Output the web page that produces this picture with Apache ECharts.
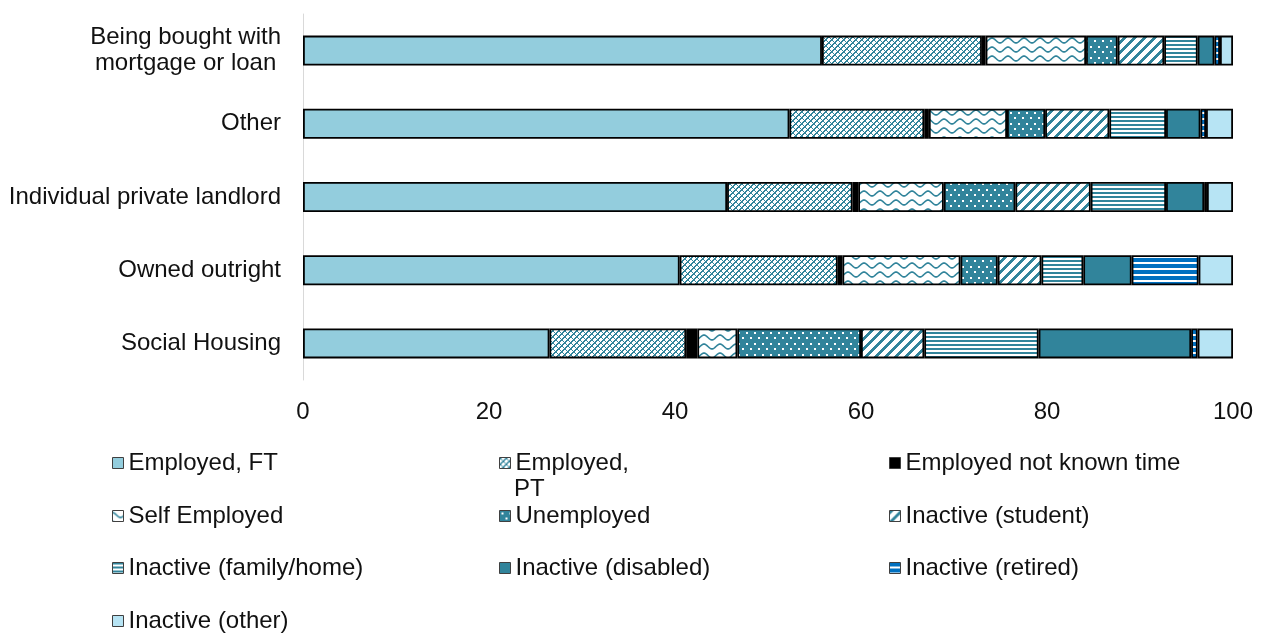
<!DOCTYPE html>
<html>
<head>
<meta charset="utf-8">
<script src="https://cdn.jsdelivr.net/npm/echarts@6/dist/echarts.min.js"></script>
<style>
  html, body { margin: 0; padding: 0; background: #fff; }
  #chart { width: 1266px; height: 633px; }
</style>
</head>
<body>
<div id="chart"></div>
<script>
// Tenure categories, top to bottom
const categories = [
  'Being bought with mortgage or loan',
  'Other',
  'Individual private landlord',
  'Owned outright',
  'Social Housing'
];

// Economic activity shares (%) per tenure, same order as categories
const employedFT      = [55.8, 52.3, 45.6, 40.5, 26.5];
const employedPT      = [17.2, 14.5, 13.5, 17.0, 14.7];
const employedUnknown = [0.4, 0.5, 0.6, 0.5, 1.2];
const selfEmployed    = [10.8, 8.4, 9.2, 12.7, 4.3];
const unemployed      = [3.4, 4.1, 7.7, 4.0, 13.3];
const inactiveStudent = [5.0, 6.9, 8.1, 4.7, 6.8];
const inactiveFamily  = [3.6, 6.1, 8.1, 4.5, 12.3];
const inactiveDisabled= [1.8, 3.7, 4.1, 5.2, 16.4];
const inactiveRetired = [0.6, 0.6, 0.3, 7.2, 0.7];
const inactiveOther   = [1.4, 2.9, 2.8, 3.7, 3.8];

const seriesNames = [
  'Employed, FT', 'Employed, PT', 'Employed not known time',
  'Self Employed', 'Unemployed', 'Inactive (student)',
  'Inactive (family/home)', 'Inactive (disabled)', 'Inactive (retired)',
  'Inactive (other)'
];
const xTicks = { min: 0, max: 100, step: 20 };

const TEAL = '#31849B';
const FONT = "'Liberation Sans', Arial, sans-serif";
const FS = 24;

// ---- fill patterns drawn into small repeating tiles ----
function tile(w, h, draw) {
  const c = document.createElement('canvas');
  c.width = w; c.height = h;
  const ctx = c.getContext('2d');
  draw(ctx, w, h);
  return { image: c, repeat: 'repeat' };
}
function pixels(w, h, bg, fg, test) {
  return tile(w, h, (ctx) => {
    ctx.fillStyle = bg; ctx.fillRect(0, 0, w, h);
    ctx.fillStyle = fg;
    for (let y = 0; y < h; y++)
      for (let x = 0; x < w; x++)
        if (test(x, y)) ctx.fillRect(x, y, 1, 1);
  });
}

const patConfetti = pixels(6, 6, '#fff', TEAL, (x, y) =>
  ((x + y) % 6) < 2 || ((x - y + 6) % 6) < 1);

const patWave = tile(16, 9, (ctx, w, h) => {
  ctx.fillStyle = '#fff'; ctx.fillRect(0, 0, w, h);
  ctx.strokeStyle = TEAL; ctx.lineWidth = 1.6;
  ctx.beginPath();
  for (let x = -1; x <= w + 1; x += 0.5) {
    const y = 4.5 - 2.4 * Math.cos(2 * Math.PI * x / w);
    if (x === -1) ctx.moveTo(x, y); else ctx.lineTo(x, y);
  }
  ctx.stroke();
});

const patDots = tile(8, 11, (ctx, w, h) => {
  ctx.fillStyle = TEAL; ctx.fillRect(0, 0, w, h);
  ctx.fillStyle = '#fff';
  ctx.fillRect(2, 2, 2, 2);
  ctx.fillRect(6, 7, 2, 2);
});

const patDiagonal = pixels(10, 10, '#fff', TEAL, (x, y) => ((x + y) % 10) < 4);

const patHLines = pixels(1, 4, '#fff', TEAL, (x, y) => y < 2);

const patRetired = pixels(1, 6, '#fff', '#0070C0', (x, y) => y < 4);

const fills = [
  '#93CDDD', patConfetti, '#000000', patWave, patDots,
  patDiagonal, patHLines, TEAL, patRetired, '#B7E4F4'
];
const values = [
  employedFT, employedPT, employedUnknown, selfEmployed, unemployed,
  inactiveStudent, inactiveFamily, inactiveDisabled, inactiveRetired, inactiveOther
];

const series = seriesNames.map((name, i) => ({
  name,
  type: 'bar',
  stack: 'total',
  barWidth: 30,
  data: values[i],
  itemStyle: { color: fills[i], borderColor: '#000', borderWidth: 1.8 },
  emphasis: { disabled: true }
}));

// Legend in three columns
const legendCols = [112, 499, 889];
const legendRows = [463, 516, 568, 621];
const legends = seriesNames.map((name, i) => ({
  data: [name],
  left: legendCols[i % 3],
  top: legendRows[Math.floor(i / 3)] - 14,
  icon: 'rect',
  itemWidth: 11,
  itemHeight: 11,
  selectedMode: false,
  padding: 0,
  itemStyle: { borderColor: '#404040', borderWidth: 1 },
  textStyle: { fontSize: FS, color: '#111', fontFamily: FONT, lineHeight: 28 },
  formatter: name === 'Employed, PT' ? 'Employed,' : '{name}'
}));

const chart = echarts.init(document.getElementById('chart'), null, { renderer: 'canvas' });
chart.setOption({
  animation: false,
  backgroundColor: '#fff',
  grid: { left: 303, right: 33, top: 14, bottom: 253, containLabel: false },
  xAxis: {
    type: 'value',
    min: xTicks.min, max: xTicks.max, interval: xTicks.step,
    axisLine: { show: false },
    axisTick: { show: false },
    splitLine: { show: false },
    axisLabel: { fontSize: FS, color: '#111', fontFamily: FONT, margin: 20 }
  },
  yAxis: {
    type: 'category',
    inverse: true,
    data: categories,
    axisLine: { show: true, lineStyle: { color: '#d9d9d9', width: 1 } },
    axisTick: { show: false },
    axisLabel: {
      fontSize: FS, color: '#111', fontFamily: FONT, margin: 22,
      formatter: (v) => v === 'Being bought with mortgage or loan'
        ? '{c|Being bought with}\n{c|mortgage or loan}'
        : v,
      rich: { c: { align: 'center', fontSize: FS, color: '#111', fontFamily: FONT, lineHeight: 26 } }
    }
  },
  legend: legends,
  graphic: [{
    type: 'text',
    left: 514,
    top: 477,
    style: { text: 'PT', fontSize: FS, fill: '#111', fontFamily: FONT }
  }],
  series
});
</script>
</body>
</html>
